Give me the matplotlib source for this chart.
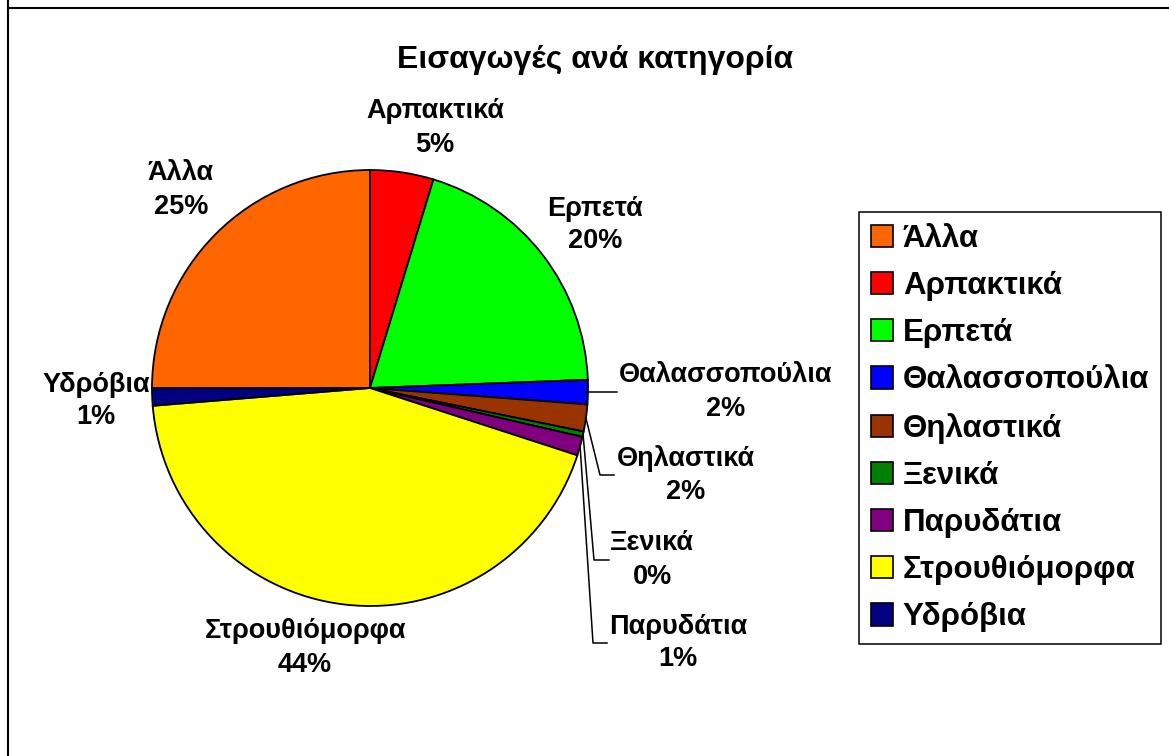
import matplotlib
matplotlib.use("Agg")
import numpy as np
from matplotlib import pyplot as plt
from matplotlib.patches import Patch
from matplotlib.lines import Line2D

# slices, clockwise from 12 o'clock (shares in %)
categories = ["Αρπακτικά", "Ερπετά", "Θαλασσοπούλια", "Θηλαστικά", "Ξενικά",
              "Παρυδάτια", "Στρουθιόμορφα", "Υδρόβια", "Άλλα"]
shares = [4.7, 19.7, 1.8, 2.0, 0.4, 1.4, 43.7, 1.3, 25.0]
colors = ["#FF0000", "#00FF00", "#0000FF", "#993300", "#008000",
          "#800080", "#FFFF00", "#000080", "#FF6600"]
legend_order = ["Άλλα", "Αρπακτικά", "Ερπετά", "Θαλασσοπούλια", "Θηλαστικά",
                "Ξενικά", "Παρυδάτια", "Στρουθιόμορφα", "Υδρόβια"]
title = "Εισαγωγές ανά κατηγορία"

W, H = 1169, 756
# label centres in pixels (top-left origin)
label_pos = {
    "Αρπακτικά": (435, 128), "Ερπετά": (595, 225), "Θαλασσοπούλια": (726, 392),
    "Θηλαστικά": (686, 475), "Ξενικά": (652, 560), "Παρυδάτια": (678, 643),
    "Στρουθιόμορφα": (305, 648), "Υδρόβια": (96, 401), "Άλλα": (181, 190),
}
# leader lines: (elbow x, end x) in pixels
leaders = {
    "Θαλασσοπούλια": (585, 617), "Θηλαστικά": (600, 614),
    "Ξενικά": (594, 609), "Παρυδάτια": (593, 607),
}

plt.rcParams["font.family"] = ["Liberation Sans", "DejaVu Sans"]

fig = plt.figure(figsize=(W / 100, H / 100), dpi=100)
ax = fig.add_axes([0, 0, 1, 1])

cx, cy, r = 370, 388, 218
wedges, _ = ax.pie(shares, colors=colors, startangle=90, counterclock=False,
                   center=(cx, H - cy), radius=r,
                   wedgeprops=dict(edgecolor="black", linewidth=1.3))
ax.set_xlim(0, W)
ax.set_ylim(0, H)
ax.set_aspect("equal")
ax.axis("off")

total = sum(shares)
for w, name, val in zip(wedges, categories, shares):
    x, y = label_pos[name]
    ax.text(x, H - y, f"{name}\n{round(val / total * 100):.0f}%",
            ha="center", va="center", fontsize=19.5, fontweight="bold",
            linespacing=1.35)
    if name in leaders:
        mid = np.deg2rad((w.theta1 + w.theta2) / 2)
        sx = cx + r * np.cos(mid)
        sy = H - cy + r * np.sin(mid)
        ex, tx = leaders[name]
        ax.plot([sx, ex, tx], [sy, H - y, H - y], color="black", lw=1.1)

fig.text(595 / W, 1 - 60 / H, title, ha="center", va="center",
         fontsize=23, fontweight="bold")

handles = [Patch(facecolor=colors[categories.index(n)], edgecolor="black",
                 linewidth=1.2) for n in legend_order]
leg = fig.legend(handles, legend_order, loc="upper left",
                 bbox_to_anchor=(859 / W, 1 - 212 / H), borderaxespad=0,
                 prop=dict(size=22.5, weight="bold"), handlelength=0.72,
                 handleheight=0.72, handletextpad=0.3, labelspacing=0.55,
                 borderpad=0.38, fancybox=False, framealpha=1)
leg.get_frame().set_edgecolor("black")
leg.get_frame().set_linewidth(1.1)

# chart area border
fig.add_artist(Line2D([8 / W, 8 / W], [0, 1], color="black", lw=1.5))
fig.add_artist(Line2D([8 / W, 1], [1 - 8 / H, 1 - 8 / H], color="black", lw=1.5))

fig.savefig("out.png", dpi=100)
